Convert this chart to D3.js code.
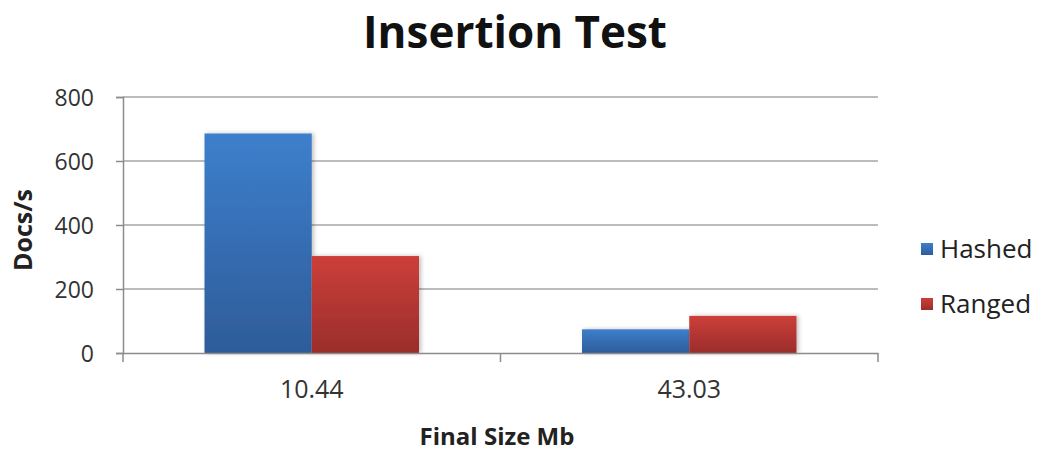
<!DOCTYPE html>
<html>
<head>
<meta charset="utf-8">
<script src="https://cdn.jsdelivr.net/npm/d3@7"></script>
<style>
  body { margin: 0; background: #fff; }
  text { font-family: "Open Sans", "Noto Sans", sans-serif; }
</style>
</head>
<body>
<svg id="chart" width="1045" height="453"></svg>
<script>
// 資料
const categories = ["10.44", "43.03"];
const seriesNames = ["Hashed", "Ranged"];
const hashed = [686, 74];
const ranged = [303, 116];
const yTicks = [0, 200, 400, 600, 800];

const svg = d3.select("#chart");
const margin = { left: 123, right: 878, top: 97, bottom: 353 };

const x = d3.scaleBand().domain(categories).range([margin.left, margin.right]);
const inner = d3.scaleBand().domain(seriesNames).range([0, x.bandwidth()]).paddingOuter(0.76).paddingInner(0);
const y = d3.scaleLinear().domain([0, 800]).range([margin.bottom, margin.top]);

// 漸層
const defs = svg.append("defs");
const colors = { Hashed: ["#3d7fcc", "#2e5c99"], Ranged: ["#cc3f3a", "#9b2d2b"] };
seriesNames.forEach(s => {
  const g = defs.append("linearGradient").attr("id", "grad-" + s)
    .attr("x1", 0).attr("y1", 0).attr("x2", 0).attr("y2", 1);
  g.append("stop").attr("offset", "0%").attr("stop-color", colors[s][0]);
  g.append("stop").attr("offset", "100%").attr("stop-color", colors[s][1]);
});
const shadow = defs.append("filter").attr("id", "shadow").attr("x", "-10%").attr("y", "-10%").attr("width", "130%").attr("height", "130%");
shadow.append("feDropShadow").attr("dx", 2).attr("dy", 0).attr("stdDeviation", 2).attr("flood-color", "#000").attr("flood-opacity", 0.25);

// 格線
svg.append("g").selectAll("line").data(yTicks.slice(1)).join("line")
  .attr("x1", margin.left).attr("x2", margin.right)
  .attr("y1", d => y(d)).attr("y2", d => y(d))
  .attr("stroke", "#a6a6a6").attr("stroke-width", 1.5);

// Y 軸
const yAxis = svg.append("g").attr("transform", `translate(${margin.left},0)`)
  .call(d3.axisLeft(y).tickValues(yTicks).tickSize(7).tickPadding(22));
yAxis.select(".domain").attr("stroke", "#8c8c8c").attr("stroke-width", 1.5);
yAxis.selectAll(".tick line").attr("stroke", "#8c8c8c").attr("stroke-width", 1.5);
yAxis.selectAll("text").attr("font-size", 23).attr("fill", "#333").attr("dy", "0.35em");

// 長條
const data = categories.map((c, i) => ({ cat: c, vals: [
  { s: "Hashed", v: hashed[i] }, { s: "Ranged", v: ranged[i] }] }));
svg.append("g").selectAll("g").data(data).join("g")
  .attr("transform", d => `translate(${x(d.cat)},0)`)
  .selectAll("rect").data(d => d.vals).join("rect")
  .attr("x", d => inner(d.s)).attr("width", inner.bandwidth())
  .attr("y", d => y(d.v)).attr("height", d => y(0) - y(d.v))
  .attr("fill", d => `url(#grad-${d.s})`)
  .attr("filter", "url(#shadow)");

// X 軸
const xAxis = svg.append("g").attr("transform", `translate(0,${margin.bottom})`)
  .call(d3.axisBottom(x).tickSize(0).tickPadding(27));
xAxis.select(".domain").attr("stroke", "#8c8c8c").attr("stroke-width", 1.5);
xAxis.selectAll("text").attr("font-size", 25).attr("fill", "#333");
xAxis.selectAll(".bnd").data([margin.left, ...categories.map(c => x(c) + x.bandwidth())]).join("line")
  .attr("x1", d => d).attr("x2", d => d).attr("y1", 0).attr("y2", 9)
  .attr("stroke", "#8c8c8c").attr("stroke-width", 1.5);

// 標題
svg.append("text").attr("x", 515).attr("y", 48).attr("text-anchor", "middle")
  .attr("font-size", 44).attr("font-weight", "bold").attr("fill", "#111").text("Insertion Test");
svg.append("text").attr("x", 497).attr("y", 445).attr("text-anchor", "middle")
  .attr("font-size", 24).attr("font-weight", "bold").attr("fill", "#222").text("Final Size Mb");
svg.append("text").attr("transform", "translate(32,230) rotate(-90)").attr("text-anchor", "middle")
  .attr("font-size", 25).attr("font-weight", "bold").attr("fill", "#222").text("Docs/s");

// 圖例
const legend = svg.append("g").selectAll("g").data(seriesNames).join("g")
  .attr("transform", (d, i) => `translate(921,${249 + i * 55})`);
legend.append("rect").attr("x", 0).attr("y", -6).attr("width", 12).attr("height", 12)
  .attr("fill", d => `url(#grad-${d})`);
legend.append("text").attr("x", 19).attr("y", 0).attr("dy", "0.35em")
  .attr("font-size", 26).attr("fill", "#222").text(d => d);
</script>
</body>
</html>
